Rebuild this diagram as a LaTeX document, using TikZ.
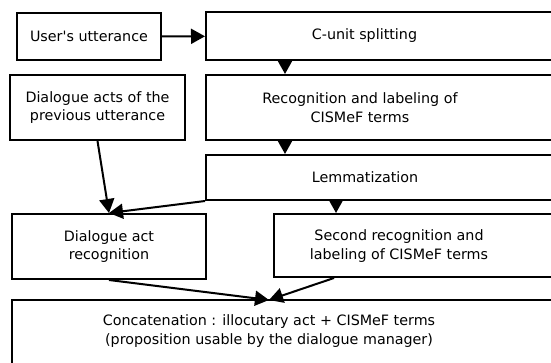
\documentclass[tikz,border=0pt]{standalone}
\usepackage{fontspec}
\setmainfont{DejaVu Sans}[Ligatures=TeXOff]
\usetikzlibrary{positioning,arrows.meta,calc}

\begin{document}
\begin{tikzpicture}[
			x=1pt, y=-1pt,
			every node/.style={font=\fontsize{14.3}{18.5}\selectfont},
			box/.style={rectangle, draw=black, line width=2pt, inner sep=0pt},
			txt/.style={align=center, inner sep=0pt},
			flow/.style={-{Triangle[length=14pt,width=15pt]}, line width=2pt}
			]
			\useasboundingbox (0,0) rectangle (551,362);
			\clip (0,0) rectangle (551,362);
			
			\node (user) at (89,36.5) [box, minimum width=144pt, minimum height=47pt] {User's utterance};
			\node (csplit) at (385.5,36) [box, minimum width=359pt, minimum height=48pt] {};
			\node (csplit-t) at (364.5,36) [txt] {C-unit splitting};
			
			\node (prevda) at (97.5,107.5) [box, minimum width=175pt, minimum height=65pt, align=center] {Dialogue acts of the\\previous utterance};
			\node (recog) at (385.5,107.5) [box, minimum width=359pt, minimum height=65pt] {};
			\node (recog-t) at (360,107.5) [txt] {Recognition and labeling of\\CISMeF terms};
			
			\node (lemma) at (385.5,177.5) [box, minimum width=359pt, minimum height=45pt] {};
			\node (lemma-t) at (365,177.5) [txt] {Lemmatization};
			
			\node (dar) at (109,246.5) [box, minimum width=194pt, minimum height=65pt, align=center] {Dialogue act\\recognition};
			\node (second) at (419.5,245.5) [box, minimum width=291pt, minimum height=63pt] {};
			\node (second-t) at (399,246) [txt] {Second recognition and\\labeling of CISMeF terms};
			
			\node (concat) at (288.5,335) [box, minimum width=553pt, minimum height=70pt] {};
			\node (concat-t) at (269,331) [txt] {Concatenation : illocutary act + CISMeF terms\\(proposition usable by the dialogue manager)};
			
			\coordinate (join) at (269,300);
			
			\draw [flow] (user) -- (csplit);
			\draw [flow] ([xshift=80pt]csplit.south west) -- ([xshift=80pt]recog.north west);
			\draw [flow] ([xshift=80pt]recog.south west) -- ([xshift=80pt]lemma.north west);
			\draw [flow] ([xshift=63pt]second.north west |- lemma.south) -- ([xshift=63pt]second.north west);
			
			\draw [flow] (prevda.south) -- (dar.north);
			\draw [flow] (lemma.south west) -- (dar.north);
			
			\draw [flow] (dar.south) -- (join);
			\draw [flow] ([xshift=61pt]second.south west) -- (join);
			\end{tikzpicture}
\end{document}
